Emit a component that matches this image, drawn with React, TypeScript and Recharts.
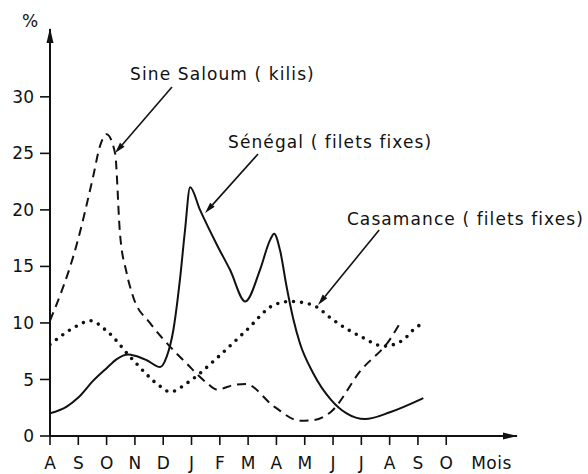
import React from 'react';
import { LineChart, Line, XAxis, YAxis, ReferenceLine, ReferenceDot } from 'recharts';

// month axis: A (août) .. O (octobre) of the next year
const months = ['A', 'S', 'O', 'N', 'D', 'J', 'F', 'M', 'A', 'M', 'J', 'J', 'A', 'S', 'O'];
const monthTicks = [0, 1, 2, 3, 4, 5, 6, 7, 8, 9, 10, 11, 12, 13, 14];
const unitTick = 15.6;
const pctTicks = [0, 5, 10, 15, 20, 25, 30];

// Sénégal (filets fixes) - solid
const senegalMonth = [0, 0.59, 1, 1.53, 2, 2.36, 2.76, 3, 3.42, 3.89, 4.12, 4.36, 4.59, 4.77, 4.95, 5.3, 5.9, 6.36, 6.9, 7.42, 7.77, 7.92, 8.13, 8.36, 8.6, 8.83, 9.29, 9.93, 10.48, 11.13, 12.01, 13.19];
const senegalPct = [2.0, 2.6, 3.4, 4.9, 6.0, 6.8, 7.2, 7.1, 6.7, 6.1, 7.0, 9.4, 13.8, 18.2, 22.0, 20.0, 16.9, 14.7, 11.9, 14.7, 17.3, 17.9, 16.4, 13.2, 10.3, 8.2, 5.6, 3.2, 2.0, 1.5, 2.1, 3.35];

// Sine Saloum (kilis) - dashed
const saloumMonth = [0, 0.95, 1.52, 1.76, 2.0, 2.3, 2.47, 2.71, 2.94, 3.53, 3.92, 4.83, 5.54, 5.91, 6.47, 6.91, 7.92, 8.83, 9.3, 9.93, 10.98, 12.0, 12.37];
const saloumPct = [10.2, 17.0, 22.9, 25.6, 26.7, 25.0, 18.0, 14.4, 12.3, 10.0, 8.8, 6.4, 4.7, 4.1, 4.5, 4.6, 2.6, 1.35, 1.4, 2.15, 5.8, 8.5, 10.0];

// Casamance (filets fixes) - dotted
const casamanceMonth = [0, 1.0, 1.41, 2.0, 2.94, 3.92, 4.24, 4.91, 5.9, 6.92, 7.92, 8.48, 8.94, 9.43, 9.93, 10.98, 11.8, 12.48, 12.84, 13.18];
const casamancePct = [8.1, 9.8, 10.2, 9.3, 6.7, 4.35, 3.9, 4.8, 6.9, 9.3, 11.6, 11.9, 11.8, 11.4, 10.4, 8.8, 7.95, 8.5, 9.4, 10.0];

const toPoints = (xs: number[], ys: number[]) => xs.map((x, i) => ({ month: x, pct: ys[i] }));

const senegalData = toPoints(senegalMonth, senegalPct);
const saloumData = toPoints(saloumMonth, saloumPct);
const casamanceData = toPoints(casamanceMonth, casamancePct);

// hand-drawn labels with their pointer arrows (chart units)
const annotations = [
  { text: 'Sine Saloum ( kilis)', at: [2.83, 31.49], from: [4.31, 30.87], to: [2.3, 25.03] },
  { text: 'Sénégal ( filets fixes)', at: [6.29, 25.47], from: [7.35, 24.94], to: [5.48, 19.72] },
  { text: 'Casamance ( filets fixes)', at: [10.49, 18.66], from: [11.63, 18.22], to: [9.47, 11.59] },
];

const FONT = '"DejaVu Sans", sans-serif';
const INK = '#111';

const MonthTick = (props: any) => {
  const { x, y, payload } = props;
  const idx = monthTicks.indexOf(payload.value);
  const isUnit = idx < 0;
  return (
    <g>
      {!isUnit && <line x1={x} x2={x} y1={y - 13} y2={y - 4} stroke={INK} strokeWidth={1.6} />}
      <text x={x} y={y} dy={20} textAnchor="middle" fontFamily={FONT} fontSize={17} fill={INK} letterSpacing={isUnit ? 0.5 : 0}>
        {isUnit ? 'Mois' : months[idx]}
      </text>
    </g>
  );
};

const arrowShape = (p: any) => {
  const { x1, y1, x2, y2 } = p;
  const dx = x2 - x1;
  const dy = y2 - y1;
  const len = Math.hypot(dx, dy) || 1;
  const ux = dx / len;
  const uy = dy / len;
  const hl = 11;
  const hw = 3;
  const bx = x2 - ux * hl;
  const by = y2 - uy * hl;
  return (
    <g>
      <line x1={x1} y1={y1} x2={bx} y2={by} stroke={INK} strokeWidth={1.6} />
      <path d={`M${x2},${y2}L${bx - uy * hw},${by + ux * hw}L${bx + uy * hw},${by - ux * hw}Z`} fill={INK} />
    </g>
  );
};

export default function App() {
  return (
    <div style={{ position: 'absolute', left: 0, top: 0, width: 588, height: 474, background: '#fff' }}>
      <LineChart width={588} height={474} margin={{ top: 29, right: 71, bottom: 8, left: 10 }}>
        <XAxis
          type="number"
          dataKey="month"
          domain={[0, 16.5]}
          ticks={[...monthTicks, unitTick]}
          interval={0}
          height={30}
          tickSize={9}
          tickMargin={4}
          tickLine={false}
          tick={<MonthTick />}
          axisLine={{ stroke: INK, strokeWidth: 2 }}
          allowDataOverflow
        />
        <YAxis
          type="number"
          domain={[0, 36]}
          ticks={pctTicks}
          interval={0}
          width={40}
          tickSize={10}
          tickMargin={6}
          tickLine={{ stroke: INK, strokeWidth: 1.6 }}
          tick={{ fill: INK, fontSize: 17, fontFamily: FONT }}
          axisLine={{ stroke: INK, strokeWidth: 2 }}
          allowDataOverflow
        />

        <Line data={senegalData} dataKey="pct" type="monotone" stroke={INK} strokeWidth={2} dot={false} activeDot={false} isAnimationActive={false} />
        <Line data={saloumData} dataKey="pct" type="monotone" stroke={INK} strokeWidth={2} strokeDasharray="9 6" dot={false} activeDot={false} isAnimationActive={false} />
        <Line data={casamanceData} dataKey="pct" type="monotone" stroke={INK} strokeWidth={3.6} strokeDasharray="0 8" strokeLinecap="round" dot={false} activeDot={false} isAnimationActive={false} />

        {annotations.map((a) => (
          <ReferenceLine
            key={`arrow-${a.text}`}
            segment={[{ x: a.from[0], y: a.from[1] }, { x: a.to[0], y: a.to[1] }]}
            ifOverflow="visible"
            shape={arrowShape}
          />
        ))}
        {annotations.map((a) => (
          <ReferenceDot
            key={`label-${a.text}`}
            x={a.at[0]}
            y={a.at[1]}
            r={0}
            ifOverflow="visible"
            shape={(p: any) => (
              <text x={p.cx} y={p.cy} fontFamily={FONT} fontSize={17} fill={INK} letterSpacing={1.1}>
                {a.text}
              </text>
            )}
          />
        ))}

        {/* axis arrowheads and the % unit */}
        <ReferenceDot
          x={16.5}
          y={0}
          r={0}
          ifOverflow="visible"
          shape={(p: any) => <path d={`M${p.cx + 1},${p.cy}l-15,-3.5l0,7z`} fill={INK} />}
        />
        <ReferenceDot
          x={0}
          y={36}
          r={0}
          ifOverflow="visible"
          shape={(p: any) => (
            <g>
              <path d={`M${p.cx},${p.cy - 1}l-3.5,15l7,0z`} fill={INK} />
              <text x={p.cx - 20} y={p.cy - 2} textAnchor="middle" fontFamily={FONT} fontSize={17} fill={INK}>%</text>
            </g>
          )}
        />
      </LineChart>
    </div>
  );
}
